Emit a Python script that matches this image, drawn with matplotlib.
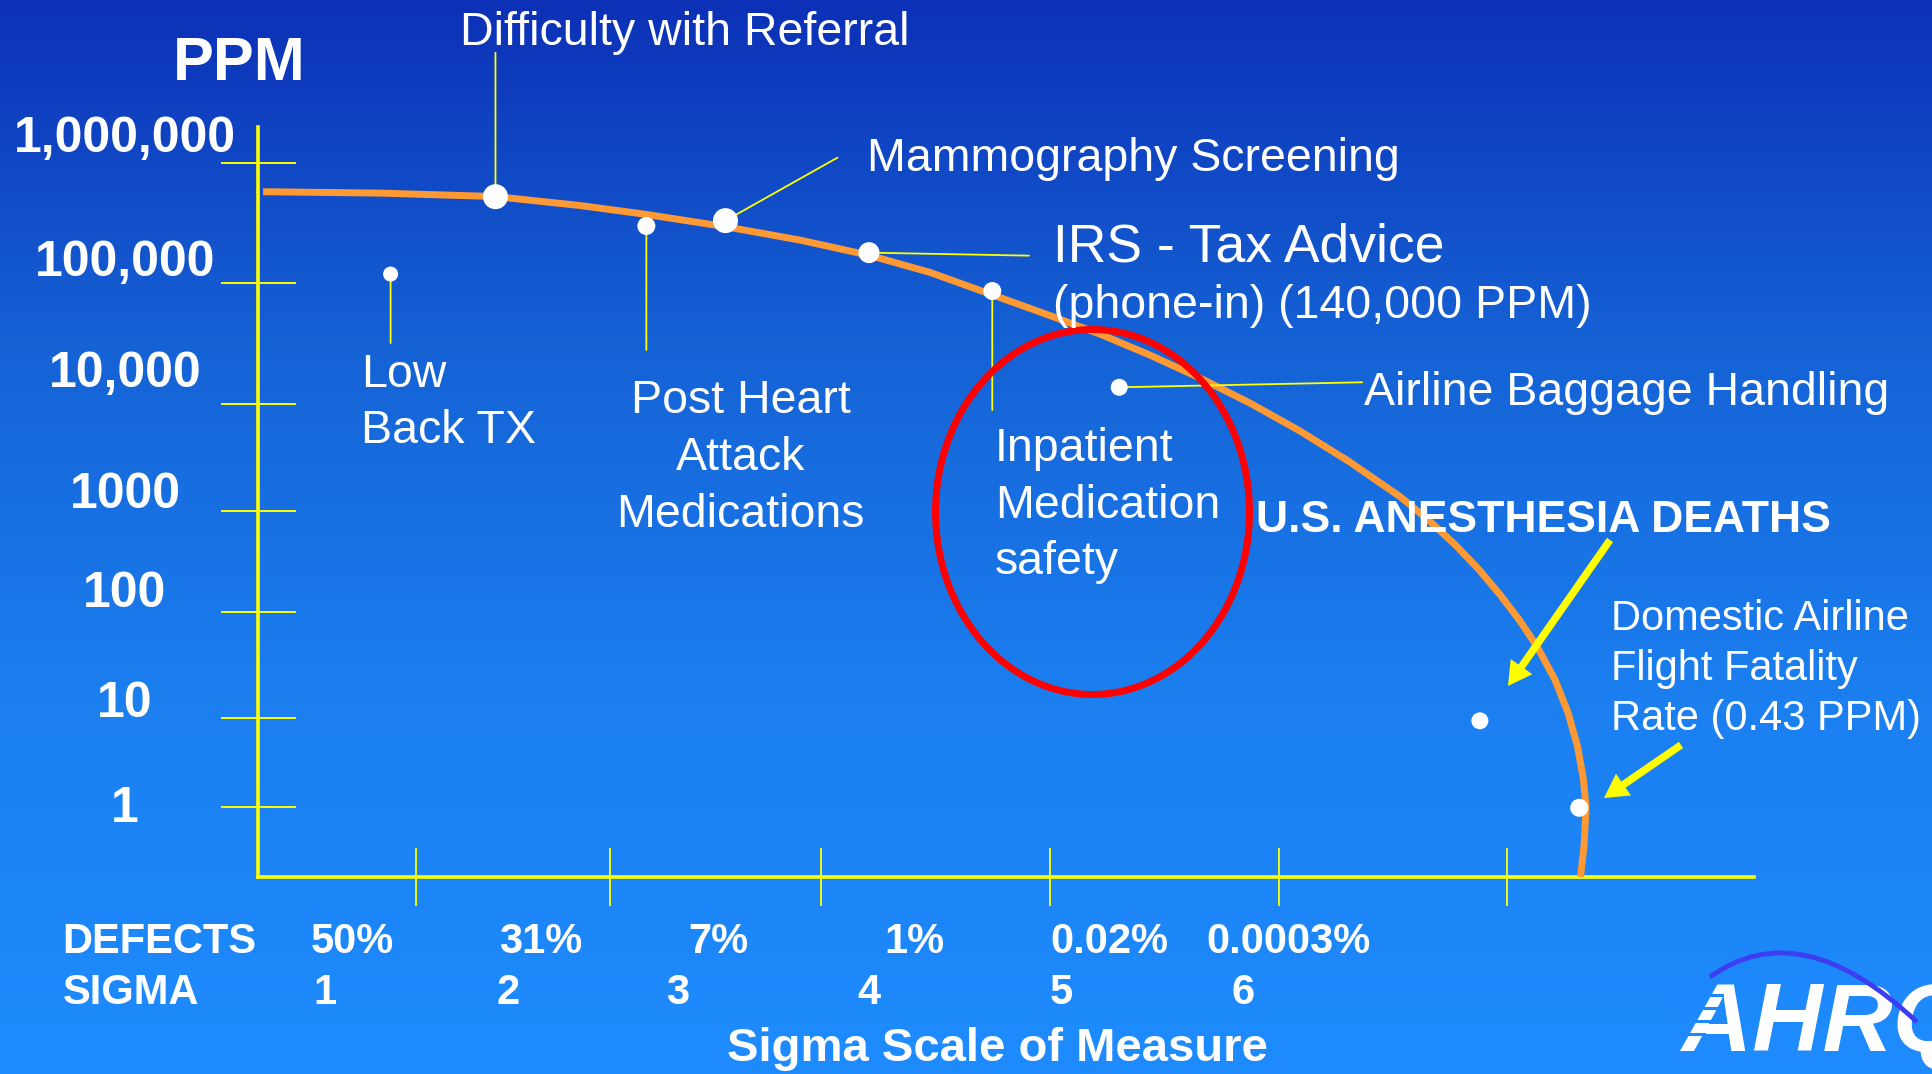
import numpy as np
import matplotlib.pyplot as plt
from matplotlib.patches import Ellipse, FancyArrowPatch, PathPatch
from matplotlib.path import Path
from matplotlib.ticker import NullLocator

plt.rcParams["font.family"] = ["Liberation Sans", "DejaVu Sans"]

# ---------------- values ----------------
ppm_ticks = [1, 10, 100, 1000, 10000, 100000, 1000000]
ppm_tick_labels = ["1", "10", "100", "1000", "10,000", "100,000", "1,000,000"]

sigma_levels = [1, 2, 3, 4, 5, 6]
defect_labels = ["50%", "31%", "7%", "1%", "0.02%", "0.0003%"]

# orange sigma curve (sigma, PPM)
curve_sigma = [0.687, 1.322, 1.945, 2.409, 2.768, 3.198, 3.605, 3.980, 4.312, 4.649,
               4.964, 5.236, 5.507, 5.779, 6.051, 6.323, 6.594, 6.866, 7.018, 7.165,
               7.295, 7.409, 7.513, 7.611, 7.708, 7.779, 7.831, 7.863, 7.877, 7.866,
               7.847]
curve_ppm = [573100, 558000, 522800, 439900, 370900, 293400, 226500, 169200, 121800,
             79660, 53620, 37780, 25390, 16430, 10230, 5608, 2873, 1365, 822, 465,
             263, 148.7, 84.8, 47.2, 23.0, 11.24, 4.77, 2.03, 0.985, 0.365, 0.164]

proc_labels = [
    "Low\nBack TX",
    "Difficulty with Referral",
    "Post Heart\nAttack\nMedications",
    "Mammography Screening",
    "IRS - Tax Advice\n(phone-in) (140,000 PPM)",
    "Inpatient\nMedication\nsafety",
    "Airline Baggage Handling",
    "U.S. ANESTHESIA DEATHS",
    "Domestic Airline\nFlight Fatality\nRate (0.43 PPM)",
]
proc_sigma = [1.38, 1.95, 2.77, 3.20, 3.98, 4.65, 5.34, 7.30, 7.84]
proc_ppm = [118000, 521000, 297000, 329000, 178000, 85400, 13800, 9.3, 0.98]

# ---------------- layout (pixels on the 1932x1074 slide) ----------------
W, H = 1932, 1074
AX_L, AX_R, AX_T, AX_B = 257.6, 1754.0, 126.7, 877.3
SIG_X0, SIG_DX = 136.67, 184.0          # pixel of sigma 0, pixels per sigma
# the hand drawn log axis: pixel row of each decade (10^-1 .. 10^7)
DEC_LOG = np.arange(-1, 8)
DEC_PX = np.array([896, 807, 718, 612, 511, 404.3, 282.7, 162.7, 42.7])
DIVIDER_SIGMA = [1.516, 2.571, 3.721, 4.962, 6.206, 7.447]
TICKLABEL_BASE = [822, 717, 607, 507.5, 387, 276, 152]
DEFECT_PX = [352.7, 541, 718.6, 914, 1109.5, 1288]
SIGMA_PX = [325, 508, 678, 869, 1061, 1243]

dot_px = [15, 25, 18, 25, 21, 18, 17, 17, 18]
leaders = [(0, -69), (0, 144), (0, -124), (112, 63), (160, -3), (0, -119), (243, 5), None, None]
# x, first baseline, line pitch, ha, font size(s), weight
label_layout = [
    (361, 387, 56, "left", 33.5, "normal"),
    (460, 45, 0, "left", 33.5, "normal"),
    (740.5, 413, 56.8, "center", 33.5, "normal"),
    (867, 170.7, 0, "left", 33.5, "normal"),
    (1053, 261.7, 56.3, "left", (38.5, 33.5), "normal"),
    (995, 461, 56.5, "left", 33.5, "normal"),
    (1364.5, 405, 0, "left", 33.5, "normal"),
    (1256, 531.7, 0, "left", 32, "bold"),
    (1611, 630, 50, "left", 30, "normal"),
]
pointer_arrows = [((1610, 540), (1508, 686)), ((1681, 745), (1604, 798))]

YEL = "#ffff00"
ORANGE = "#ff9933"


def fpos(x, y):
    return x / W, 1 - y / H


def fwd(v):
    v = np.clip(np.asarray(v, dtype=float), 1e-3, None)
    return np.interp(np.log10(v), DEC_LOG, AX_B - DEC_PX)


def inv(u):
    return 10 ** np.interp(np.asarray(u, dtype=float), AX_B - DEC_PX, DEC_LOG)


def main():
    fig = plt.figure(figsize=(W / 100, H / 100), dpi=100)

    # background gradient
    bg = fig.add_axes([0, 0, 1, 1], zorder=-10)
    rows = np.linspace(0, 1, H)
    stops = [0, 0.32, 0.65, 1]
    cols = np.array([[12, 48, 182], [21, 98, 213], [27, 127, 240], [30, 140, 255]]) / 255
    grad = np.stack([np.interp(rows, stops, cols[:, k]) for k in range(3)], axis=-1)[:, None, :]
    bg.imshow(grad, aspect="auto", extent=[0, 1, 0, 1])
    bg.axis("off")

    ax = fig.add_axes([AX_L / W, 1 - AX_B / H, (AX_R - AX_L) / W, (AX_B - AX_T) / H])
    ax.patch.set_visible(False)
    ax.set_yscale("function", functions=(fwd, inv))
    ax.set_xlim((AX_L - SIG_X0) / SIG_DX, (AX_R - SIG_X0) / SIG_DX)
    ax.set_ylim(inv(0.0), inv(AX_B - AX_T))

    ax.set_yticks(ppm_ticks)
    ax.set_xticks(DIVIDER_SIGMA)
    ax.yaxis.set_minor_locator(NullLocator())
    ax.xaxis.set_minor_locator(NullLocator())
    ax.tick_params(axis="y", direction="inout", length=54, width=1.4, color=YEL, labelleft=False)
    ax.tick_params(axis="x", direction="inout", length=42, width=1.3, color=YEL, labelbottom=False)
    for side in ["top", "right"]:
        ax.spines[side].set_visible(False)
    for side in ["left", "bottom"]:
        ax.spines[side].set_color(YEL)
        ax.spines[side].set_linewidth(2.6)

    # curve, leaders, dots
    ax.plot(curve_sigma, curve_ppm, color=ORANGE, lw=5, solid_capstyle="butt",
            solid_joinstyle="round", zorder=3)
    for s, p, off in zip(proc_sigma, proc_ppm, leaders):
        if off is None:
            continue
        ax.annotate("", xy=(s, p), xytext=off, textcoords="offset pixels",
                    arrowprops=dict(arrowstyle="-", color=YEL, lw=1.3, shrinkA=0, shrinkB=0),
                    annotation_clip=False)
    ax.scatter(proc_sigma, proc_ppm, s=(np.array(dot_px) * 0.72) ** 2, color="white",
               linewidths=0, zorder=5, clip_on=False)

    # process labels
    for text, (x, y0, pitch, ha, size, weight) in zip(proc_labels, label_layout):
        lines = text.split("\n")
        sizes = size if isinstance(size, tuple) else [size] * len(lines)
        for i, line in enumerate(lines):
            fig.text(*fpos(x, y0 + i * pitch), line, ha=ha, va="baseline",
                     fontsize=sizes[i], fontweight=weight, color="white")

    # y axis labels
    fig.text(*fpos(239, 80), "PPM", ha="center", va="baseline", fontsize=44,
             fontweight="bold", color="white")
    for lab, yb in zip(ppm_tick_labels, TICKLABEL_BASE):
        fig.text(*fpos(125, yb), lab, ha="center", va="baseline", fontsize=36,
                 fontweight="bold", color="white")

    # bottom rows
    fig.text(*fpos(62.5, 953), "DEFECTS", ha="left", va="baseline", fontsize=30,
             fontweight="bold", color="white")
    fig.text(*fpos(62.5, 1003.7), "SIGMA", ha="left", va="baseline", fontsize=30,
             fontweight="bold", color="white")
    for x, lab in zip(DEFECT_PX, defect_labels):
        fig.text(*fpos(x, 953), lab, ha="center", va="baseline",
                 fontsize=30, fontweight="bold", color="white")
    for x, s in zip(SIGMA_PX, sigma_levels):
        fig.text(*fpos(x, 1003.7), str(s), ha="center", va="baseline",
                 fontsize=30, fontweight="bold", color="white")
    fig.text(*fpos(997, 1060.7), "Sigma Scale of Measure", ha="center", va="baseline",
             fontsize=34, fontweight="bold", color="white")

    # red ellipse around inpatient safety
    fig.add_artist(Ellipse(fpos(1092.5, 512), 314 / W, 365 / H, transform=fig.transFigure,
                           fill=False, edgecolor="#ff0000", lw=5))

    # yellow pointer arrows
    for tail, tip in pointer_arrows:
        fig.add_artist(FancyArrowPatch(fpos(*tail), fpos(*tip), transform=fig.transFigure,
                                       arrowstyle="simple,head_length=0.85,head_width=0.95,tail_width=0.27",
                                       mutation_scale=20, color=YEL, lw=0, shrinkA=0, shrinkB=0))

    # AHRQ logo
    fig.text(*fpos(1682, 1051), "AHRQ", ha="left", va="baseline", fontsize=70,
             fontweight="bold", style="italic", color="white",
             family=["Liberation Sans Narrow", "Liberation Sans"], zorder=3)
    for yy in [995, 1008, 1021, 1034]:
        x0, y0 = fpos(1672, yy)
        x1, _ = fpos(1728 - (yy - 981) * 0.45, yy)
        fig.add_artist(plt.Line2D([x0, x1], [y0, y0], transform=fig.transFigure,
                                  color=(29 / 255, 137 / 255, 252 / 255), lw=2.2, zorder=3.5))
    arc = Path([fpos(1710, 977), fpos(1800, 912), fpos(1917, 1022)],
               [Path.MOVETO, Path.CURVE3, Path.CURVE3])
    fig.add_artist(PathPatch(arc, transform=fig.transFigure, fill=False,
                             edgecolor="#3d3df2", lw=3.5, zorder=4))

    fig.savefig("out.png", dpi=100)


if __name__ == "__main__":
    main()
